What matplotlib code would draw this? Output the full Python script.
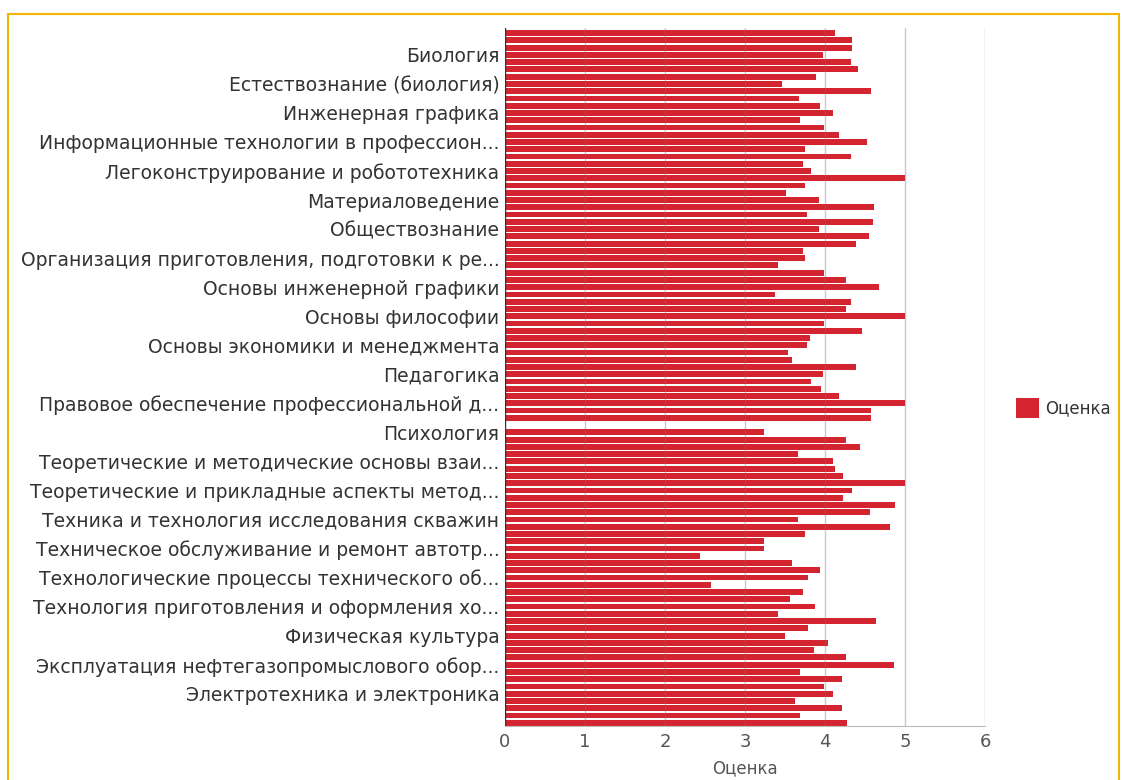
import matplotlib
matplotlib.use('Agg')
import matplotlib.pyplot as plt
from matplotlib.patches import Rectangle

# one value per subject, top to bottom (0 = no mark)
scores = [
    4.12, 4.34, 4.34, 3.97, 4.33, 4.41, 3.89, 3.46, 4.57, 3.67, 3.94, 4.10,
    3.69, 3.99, 4.17, 4.52, 3.75, 4.33, 3.73, 3.83, 5.00, 3.75, 3.51, 3.93,
    4.61, 3.78, 4.60, 3.93, 4.55, 4.39, 3.73, 3.75, 3.41, 3.99, 4.26, 4.68,
    3.38, 4.33, 4.26, 5.00, 3.99, 4.46, 3.81, 3.77, 3.54, 3.59, 4.39, 3.97,
    3.82, 3.95, 4.18, 5.00, 4.57, 4.57, 0.00, 3.24, 4.26, 4.44, 3.66, 4.10,
    4.12, 4.23, 5.00, 4.34, 4.23, 4.88, 4.56, 3.66, 4.81, 3.75, 3.24, 3.24,
    2.44, 3.59, 3.94, 3.79, 2.58, 3.72, 3.56, 3.88, 3.41, 4.64, 3.79, 3.50,
    4.04, 3.86, 4.26, 4.86, 3.69, 4.21, 3.99, 4.10, 3.62, 4.21, 3.69, 4.28,
]

# only every 4th subject gets a visible label
shown_labels = [
    'Биология',
    'Естествознание (биология)',
    'Инженерная графика',
    'Информационные технологии в профессион...',
    'Легоконструирование и робототехника',
    'Материаловедение',
    'Обществознание',
    'Организация приготовления, подготовки к ре...',
    'Основы инженерной графики',
    'Основы философии',
    'Основы экономики и менеджмента',
    'Педагогика',
    'Правовое обеспечение профессиональной д...',
    'Психология',
    'Теоретические и методические основы взаи...',
    'Теоретические и прикладные аспекты метод...',
    'Техника и технология исследования скважин',
    'Техническое обслуживание и ремонт автотр...',
    'Технологические процессы технического об...',
    'Технология приготовления и оформления хо...',
    'Физическая культура',
    'Эксплуатация нефтегазопромыслового обор...',
    'Электротехника и электроника',
]
label_start = 3
label_step = 4
x_ticks = [0, 1, 2, 3, 4, 5, 6]

fig = plt.figure(figsize=(11.22, 7.80), dpi=100)
ax = fig.add_axes([505 / 1122, 1 - 726 / 780, 480 / 1122, 698 / 780])

pos = list(range(len(scores)))
bars = ax.barh(pos, scores, height=0.8, color='#d3242f', zorder=2, label='Оценка')

for t in x_ticks[1:]:
    ax.axvline(t, color='#777777', alpha=0.4, lw=1, zorder=3)
ax.axvline(0, color='#333333', lw=1, zorder=4)

ax.set_xlim(0, 6)
ax.set_ylim(95.45, -0.7)
ax.set_xticks(x_ticks)
ax.set_xticklabels([str(t) for t in x_ticks], fontsize=13, color='#555555')
ax.set_yticks([label_start + label_step * i for i in range(len(shown_labels))])
ax.set_yticklabels(shown_labels, fontsize=13.5, color='#333333')
ax.tick_params(length=0, pad=4)
ax.tick_params(axis='x', pad=5)
ax.set_xlabel('Оценка', fontsize=12, color='#555555', labelpad=6)

for side in ['top', 'right', 'left']:
    ax.spines[side].set_visible(False)
ax.spines['bottom'].set_color('#bbbbbb')

fig.legend(handles=[bars], labels=['Оценка'], loc='center left',
           bbox_to_anchor=(1001 / 1122, 1 - 408 / 780), frameon=False,
           fontsize=12, handlelength=1.4, handleheight=1.4, handletextpad=0.35,
           labelcolor='#333333')

fig.patches.append(Rectangle((8 / 1122, -0.01), 1111 / 1122, 1 - 14 / 780 + 0.01,
                             transform=fig.transFigure, fill=False,
                             edgecolor='#f2b500', lw=1.5))

fig.savefig('out.png', dpi=100)
